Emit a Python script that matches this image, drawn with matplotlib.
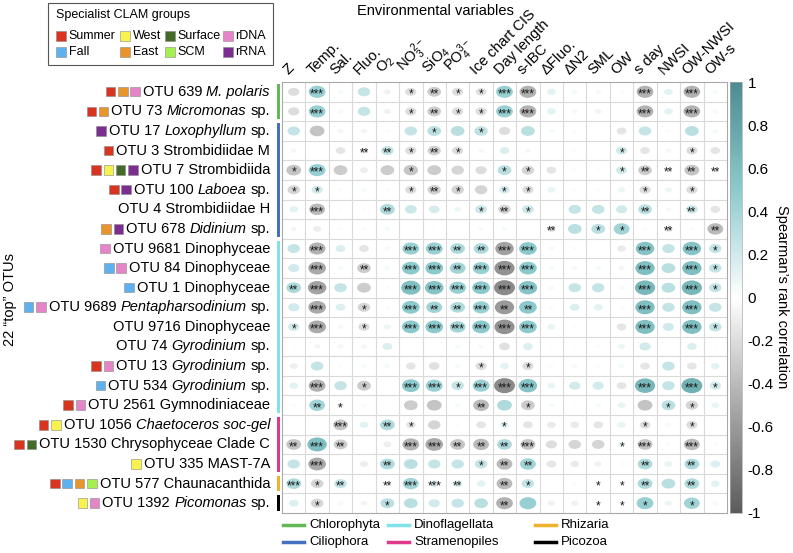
import matplotlib
matplotlib.use('Agg')
import matplotlib.pyplot as plt
import numpy as np
from matplotlib.patches import Ellipse, Rectangle
from matplotlib.colors import LinearSegmentedColormap, Normalize
from matplotlib.lines import Line2D
import matplotlib.cm as cm
import matplotlib.transforms as mtransforms

plt.rcParams['font.family'] = ['Liberation Sans', 'DejaVu Sans']
plt.rcParams['mathtext.fontset'] = 'custom'
plt.rcParams['mathtext.rm'] = 'Liberation Sans'
plt.rcParams['mathtext.it'] = 'Liberation Sans:italic'

# ---- data ----
env_vars = ["Z", "Temp.", "Sal.", "Fluo.", "O$_2$", "NO$_3^{2-}$", "SiO$_4$", "PO$_4^{3-}$",
            "Ice chart CIS", "Day length", "s-IBC", "\u0394Fluo.", "\u0394N2", "SML", "OW",
            "s day", "NWSI", "OW-NWSI", "OW-s"]

# label pieces: (text, italic?)
otu_labels = [
    [("OTU 639", 0), ("M. polaris", 1)],
    [("OTU 73", 0), ("Micromonas", 1), ("sp.", 0)],
    [("OTU 17", 0), ("Loxophyllum", 1), ("sp.", 0)],
    [("OTU 3 Strombidiidae M", 0)],
    [("OTU 7 Strombidiida", 0)],
    [("OTU 100", 0), ("Laboea", 1), ("sp.", 0)],
    [("OTU 4 Strombidiidae H", 0)],
    [("OTU 678", 0), ("Didinium", 1), ("sp.", 0)],
    [("OTU 9681 Dinophyceae", 0)],
    [("OTU 84 Dinophyceae", 0)],
    [("OTU 1 Dinophyceae", 0)],
    [("OTU 9689", 0), ("Pentapharsodinium", 1), ("sp.", 0)],
    [("OTU 9716 Dinophyceae", 0)],
    [("OTU 74", 0), ("Gyrodinium", 1), ("sp.", 0)],
    [("OTU 13", 0), ("Gyrodinium", 1), ("sp.", 0)],
    [("OTU 534", 0), ("Gyrodinium", 1), ("sp.", 0)],
    [("OTU 2561 Gymnodiniaceae", 0)],
    [("OTU 1056", 0), ("Chaetoceros soc-gel", 1)],
    [("OTU 1530 Chrysophyceae Clade C", 0)],
    [("OTU 335 MAST-7A", 0)],
    [("OTU 577 Chaunacanthida", 0)],
    [("OTU 1392", 0), ("Picomonas", 1), ("sp.", 0)],
]

clam_groups = [
    ["Summer", "East", "rDNA"],
    ["Summer", "East"],
    ["rRNA"],
    ["Summer"],
    ["Summer", "West", "Surface", "rRNA"],
    ["Summer", "rRNA"],
    [],
    ["East", "rRNA"],
    ["rDNA"],
    ["Fall", "rDNA"],
    ["Fall"],
    ["Fall", "rDNA"],
    [],
    [],
    ["Summer", "rDNA"],
    ["Fall"],
    ["Summer", "rDNA"],
    ["Summer", "West"],
    ["Summer", "Surface"],
    ["West"],
    ["Summer", "Fall", "East", "SCM"],
    ["West", "rDNA"],
]

taxa = (["Chlorophyta"] * 2 + ["Ciliophora"] * 6 + ["Dinoflagellata"] * 9 +
        ["Stramenopiles"] * 3 + ["Rhizaria"] + ["Picozoa"])

corr = np.array([
    [-0.2, 0.45, 0.05, 0.25, -0.08, -0.2, -0.3, -0.2, -0.18, 0.45, -0.45, 0.12, 0.05, -0.05, 0.03, -0.45, 0.12, -0.45, 0.05],
    [-0.2, 0.45, 0.05, 0.25, -0.08, -0.2, -0.3, -0.2, -0.2, 0.45, -0.45, 0.12, 0.05, -0.07, 0.0, -0.45, 0.12, -0.45, 0.05],
    [0.25, -0.35, -0.05, -0.06, 0.03, 0.25, 0.3, 0.3, 0.28, -0.2, 0.3, 0.05, 0.03, 0.0, -0.15, 0.25, 0.03, 0.3, 0.05],
    [-0.05, 0.0, -0.15, -0.1, 0.25, -0.2, -0.28, -0.2, -0.05, 0.15, -0.05, 0.0, 0.03, 0.0, 0.2, -0.15, -0.05, -0.2, -0.15],
    [-0.35, 0.45, -0.3, -0.1, -0.3, -0.33, -0.3, -0.25, -0.2, 0.3, -0.25, -0.15, 0.03, 0.02, 0.2, -0.3, -0.05, -0.35, -0.05],
    [-0.25, 0.2, 0.03, 0.05, 0.03, -0.2, -0.28, -0.25, -0.25, 0.18, -0.2, 0.1, 0.03, 0.03, 0.08, -0.2, 0.08, -0.2, 0.0],
    [0.12, -0.4, 0.02, 0.02, 0.35, 0.22, 0.18, 0.08, 0.22, -0.25, 0.22, 0.0, 0.25, 0.25, 0.2, 0.3, 0.05, 0.22, -0.15],
    [-0.05, -0.1, 0.03, -0.03, 0.05, 0.0, 0.02, 0.0, 0.05, 0.05, 0.0, -0.12, 0.3, 0.3, 0.4, 0.03, -0.12, 0.03, -0.4],
    [0.25, -0.45, 0.15, -0.15, 0.05, 0.45, 0.45, 0.35, 0.35, -0.55, 0.5, 0.05, 0.03, 0.0, -0.12, 0.55, 0.25, 0.55, 0.25],
    [0.2, -0.5, 0.05, -0.3, 0.05, 0.5, 0.5, 0.4, 0.45, -0.65, 0.5, 0.05, 0.05, 0.05, -0.05, 0.6, 0.3, 0.6, 0.25],
    [0.35, -0.55, 0.25, -0.3, 0.03, 0.6, 0.55, 0.45, 0.5, -0.7, 0.55, 0.05, 0.25, 0.25, 0.05, 0.65, 0.3, 0.65, 0.25],
    [0.2, -0.5, 0.15, -0.25, 0.03, 0.5, 0.4, 0.35, 0.45, -0.6, 0.5, 0.03, 0.15, 0.12, 0.03, 0.6, 0.25, 0.6, 0.25],
    [0.2, -0.5, 0.05, -0.2, 0.08, 0.5, 0.5, 0.4, 0.5, -0.65, 0.5, 0.1, 0.02, 0.0, -0.15, 0.6, 0.2, 0.6, 0.25],
    [0.02, -0.06, -0.06, -0.05, 0.15, 0.02, 0.0, 0.05, 0.05, -0.18, 0.15, 0.02, 0.02, 0.03, 0.08, 0.2, 0.0, 0.15, 0.02],
    [-0.1, 0.25, 0.03, 0.05, 0.05, -0.15, -0.18, 0.05, -0.2, 0.12, -0.2, 0.03, 0.05, 0.03, 0.05, -0.15, 0.25, -0.15, 0.12],
    [0.12, -0.45, 0.25, -0.3, 0.0, 0.5, 0.45, 0.25, 0.45, -0.7, 0.55, 0.1, 0.2, 0.2, -0.15, 0.65, 0.25, 0.7, 0.2],
    [0.03, 0.4, -0.08, 0.03, 0.0, -0.3, -0.35, 0.05, -0.4, 0.35, -0.3, 0.05, 0.02, 0.05, 0.1, -0.35, 0.3, -0.25, 0.1],
    [0.0, 0.0, -0.35, 0.12, 0.35, -0.15, -0.25, 0.02, -0.15, 0.12, -0.15, -0.12, -0.12, -0.15, 0.1, -0.18, 0.05, -0.2, 0.0],
    [-0.35, 0.6, -0.3, 0.0, -0.1, -0.45, -0.5, -0.35, -0.4, 0.35, -0.35, -0.2, -0.25, -0.25, 0.08, -0.35, 0.03, -0.4, 0.03],
    [0.25, -0.5, 0.02, -0.1, 0.35, 0.3, 0.25, 0.25, 0.25, -0.4, 0.4, -0.15, -0.12, -0.08, 0.03, 0.35, 0.1, 0.35, 0.15],
    [0.35, -0.25, 0.25, 0.0, 0.05, 0.4, 0.15, 0.15, 0.12, -0.4, 0.25, 0.0, 0.03, 0.03, 0.03, 0.35, 0.3, 0.35, 0.12],
    [0.15, -0.25, 0.05, -0.07, 0.3, 0.3, 0.2, 0.25, 0.3, -0.45, 0.45, -0.08, -0.08, 0.03, 0.03, 0.45, 0.08, 0.4, 0.05],
])

stars = np.array([
    [0, 3, 0, 0, 0, 1, 2, 1, 1, 3, 3, 0, 0, 0, 0, 3, 0, 3, 0],
    [0, 3, 0, 0, 0, 1, 2, 1, 1, 3, 3, 0, 0, 0, 0, 3, 0, 3, 0],
    [0, 0, 0, 0, 0, 0, 1, 0, 1, 0, 0, 0, 0, 0, 0, 0, 0, 0, 0],
    [0, 0, 0, 2, 2, 1, 2, 1, 0, 0, 0, 0, 0, 0, 1, 0, 0, 1, 0],
    [1, 3, 0, 0, 0, 1, 0, 0, 0, 1, 1, 0, 0, 0, 1, 2, 2, 2, 2],
    [1, 1, 0, 0, 0, 1, 2, 1, 0, 1, 1, 0, 0, 0, 0, 1, 0, 1, 0],
    [0, 3, 0, 0, 2, 0, 0, 0, 1, 2, 1, 0, 0, 0, 0, 2, 0, 2, 0],
    [0, 0, 0, 0, 0, 0, 0, 0, 0, 0, 0, 2, 0, 1, 1, 0, 2, 0, 2],
    [0, 3, 0, 0, 0, 3, 3, 2, 2, 3, 3, 0, 0, 0, 0, 3, 0, 3, 1],
    [0, 3, 0, 2, 0, 3, 3, 2, 3, 3, 3, 0, 0, 0, 0, 3, 0, 3, 1],
    [2, 3, 0, 0, 0, 3, 3, 3, 3, 3, 3, 0, 0, 0, 0, 3, 0, 3, 1],
    [0, 3, 0, 1, 0, 3, 2, 2, 3, 2, 2, 0, 0, 0, 0, 3, 0, 3, 0],
    [1, 3, 0, 1, 0, 3, 3, 3, 3, 3, 3, 0, 0, 0, 0, 3, 0, 3, 1],
    [0, 0, 0, 0, 0, 0, 0, 0, 0, 0, 0, 0, 0, 0, 0, 0, 0, 0, 0],
    [0, 0, 0, 0, 0, 0, 0, 0, 1, 0, 1, 0, 0, 0, 0, 0, 0, 0, 0],
    [0, 3, 0, 1, 0, 3, 3, 1, 3, 3, 3, 0, 0, 0, 0, 3, 0, 3, 1],
    [0, 2, 1, 0, 0, 0, 0, 0, 2, 0, 1, 0, 0, 0, 0, 0, 1, 1, 0],
    [0, 0, 3, 0, 2, 1, 0, 0, 0, 1, 0, 0, 0, 0, 0, 1, 0, 1, 0],
    [2, 3, 2, 0, 0, 3, 3, 2, 2, 2, 3, 0, 0, 0, 1, 3, 0, 3, 0],
    [0, 3, 0, 0, 2, 0, 0, 0, 1, 2, 2, 0, 0, 0, 0, 2, 0, 2, 0],
    [3, 1, 2, 0, 2, 3, 3, 2, 0, 2, 1, 0, 0, 1, 1, 2, 0, 2, 0],
    [0, 1, 0, 0, 1, 0, 0, 0, 0, 2, 0, 0, 0, 1, 1, 1, 0, 1, 0],
])

legend_groups = ["Summer", "West", "Surface", "rDNA", "Fall", "East", "SCM", "rRNA"]
group_colors = {"Summer": "#d8341f", "West": "#f8f24e", "Surface": "#436a26", "rDNA": "#e584c7",
                "Fall": "#5eb1ec", "East": "#e8952e", "SCM": "#a7ef4e", "rRNA": "#7c2d90"}
taxa_names = ["Chlorophyta", "Ciliophora", "Dinoflagellata", "Stramenopiles", "Rhizaria", "Picozoa"]
taxa_colors = {"Chlorophyta": "#62b956", "Ciliophora": "#4570c2", "Dinoflagellata": "#80e2ea",
               "Stramenopiles": "#e0398b", "Rhizaria": "#f0b12c", "Picozoa": "#000000"}

# ---- figure ----
W, H = 793, 553
fig = plt.figure(figsize=(W / 100, H / 100), dpi=100)
fx = lambda x: x / W
fy = lambda y: 1 - y / H

GL, GR, GT, GB = 282, 727, 82, 513
n_rows, n_cols = corr.shape
cw = (GR - GL) / n_cols
ch = (GB - GT) / n_rows

ax = fig.add_axes([fx(GL), fy(GB), (GR - GL) / W, (GB - GT) / H])
ax.set_xlim(0, n_cols)
ax.set_ylim(n_rows, 0)
ax.set_xticks([])
ax.set_yticks([])
for s in ax.spines.values():
    s.set_color('#a8a8a8')
    s.set_linewidth(0.8)
for i in range(1, n_cols):
    ax.axvline(i, color='#dadada', lw=0.8, zorder=0)
for i in range(1, n_rows):
    ax.axhline(i, color='#dadada', lw=0.8, zorder=0)

cmap = LinearSegmentedColormap.from_list(
    'gt', [(0, '#5c5c5c'), (0.25, '#aaaaaa'), (0.5, '#ffffff'), (0.75, '#8ccacd'), (1, '#4a8c90')])
norm = Normalize(-1, 1)

for i in range(n_rows):
    for j in range(n_cols):
        r = corr[i, j]
        if abs(r) > 0.005:
            d = 25 * np.sqrt(abs(r))
            ax.add_patch(Ellipse((j + 0.5, i + 0.5), d / cw, 0.72 * d / ch,
                                 facecolor=cmap(norm(r)), edgecolor='none', zorder=2))
        if stars[i, j]:
            ax.text(j + 0.5, i + 0.64, '*' * stars[i, j], ha='center', va='center',
                    fontsize=8.5, color='#1a1a1a', zorder=3)

# column labels
for j, lab in enumerate(env_vars):
    ax.text(j + 0.38, -0.25, lab, rotation=45, rotation_mode='anchor', ha='left', va='bottom',
            fontsize=10.5, clip_on=False)

fig.text(fx(435), fy(11), "Environmental variables", ha='center', va='center', fontsize=10.5)

# row labels with specialist squares
fig.canvas.draw()
renderer = fig.canvas.get_renderer()
trans = mtransforms.blended_transform_factory(fig.transFigure, ax.transData)
gap = 10.5 * 0.278 * 100 / 72
for i in range(n_rows):
    xr = 270.0
    for txt, it in reversed(otu_labels[i]):
        t = fig.text(fx(xr), i + 0.5, txt, transform=trans, ha='right', va='center',
                     fontsize=10.5, style='italic' if it else 'normal')
        w = t.get_window_extent(renderer).width
        xr -= w + gap
    xr += gap - 3
    for g in reversed(clam_groups[i]):
        fig.add_artist(Rectangle((fx(xr - 9.5), i + 0.5 + 4.7 / ch), 9.5 / W, -9.5 / ch,
                                 transform=trans, facecolor=group_colors[g],
                                 edgecolor='#8a8a8a', lw=0.4))
        xr -= 12.3

# taxonomic group bars
start = 0
for i in range(1, n_rows + 1):
    if i == n_rows or taxa[i] != taxa[start]:
        fig.add_artist(Rectangle((fx(277), start + 0.1), 3 / W, i - start - 0.2,
                                 transform=trans, facecolor=taxa_colors[taxa[start]],
                                 edgecolor='none'))
        start = i

fig.text(fx(10), fy(300), "22 \u201ctop\u201d OTUs", rotation=90, ha='center', va='center',
         fontsize=10.5)

# legend box for specialist groups
fig.add_artist(Rectangle((fx(48), fy(65)), 225 / W, 62 / H, transform=fig.transFigure,
                         facecolor='white', edgecolor='#555555', lw=0.8))
fig.text(fx(56), fy(15), "Specialist CLAM groups", ha='left', va='center', fontsize=9)
xs = [56, 120, 165, 223]
ys = [36, 52]
for k, g in enumerate(legend_groups):
    x = xs[k % 4]
    y = ys[k // 4]
    fig.add_artist(Rectangle((fx(x), fy(y + 5)), 10 / W, 10 / H, transform=fig.transFigure,
                             facecolor=group_colors[g], edgecolor='#8a8a8a', lw=0.4))
    fig.text(fx(x + 12.5), fy(y), g, ha='left', va='center', fontsize=9)

# taxa legend at bottom
lx = [283, 283, 388, 388, 535, 535]
ly = [525, 542, 525, 542, 525, 542]
for k, tname in enumerate(taxa_names):
    fig.add_artist(Line2D([fx(lx[k]), fx(lx[k] + 21)], [fy(ly[k]), fy(ly[k])],
                          transform=fig.transFigure, color=taxa_colors[tname], lw=2.5))
    fig.text(fx(lx[k] + 26), fy(ly[k]), tname, ha='left', va='center', fontsize=9.5)

# colorbar
cax = fig.add_axes([fx(730), fy(GB), 12 / W, (GB - GT) / H])
cb = fig.colorbar(cm.ScalarMappable(norm=norm, cmap=cmap), cax=cax)
ticks = np.round(np.arange(-1, 1.01, 0.2), 1)
cb.set_ticks(ticks)
cb.set_ticklabels(['%g' % t if t != 0 else '0' for t in ticks])
cb.ax.tick_params(length=0, labelsize=11, pad=4)
cb.outline.set_linewidth(0.5)
cb.outline.set_edgecolor('#aaaaaa')
fig.text(fx(782), fy(297), "Spearman\u2019s rank correlation", rotation=270, ha='center',
         va='center', fontsize=10.5)

fig.savefig('out.png', dpi=100)
